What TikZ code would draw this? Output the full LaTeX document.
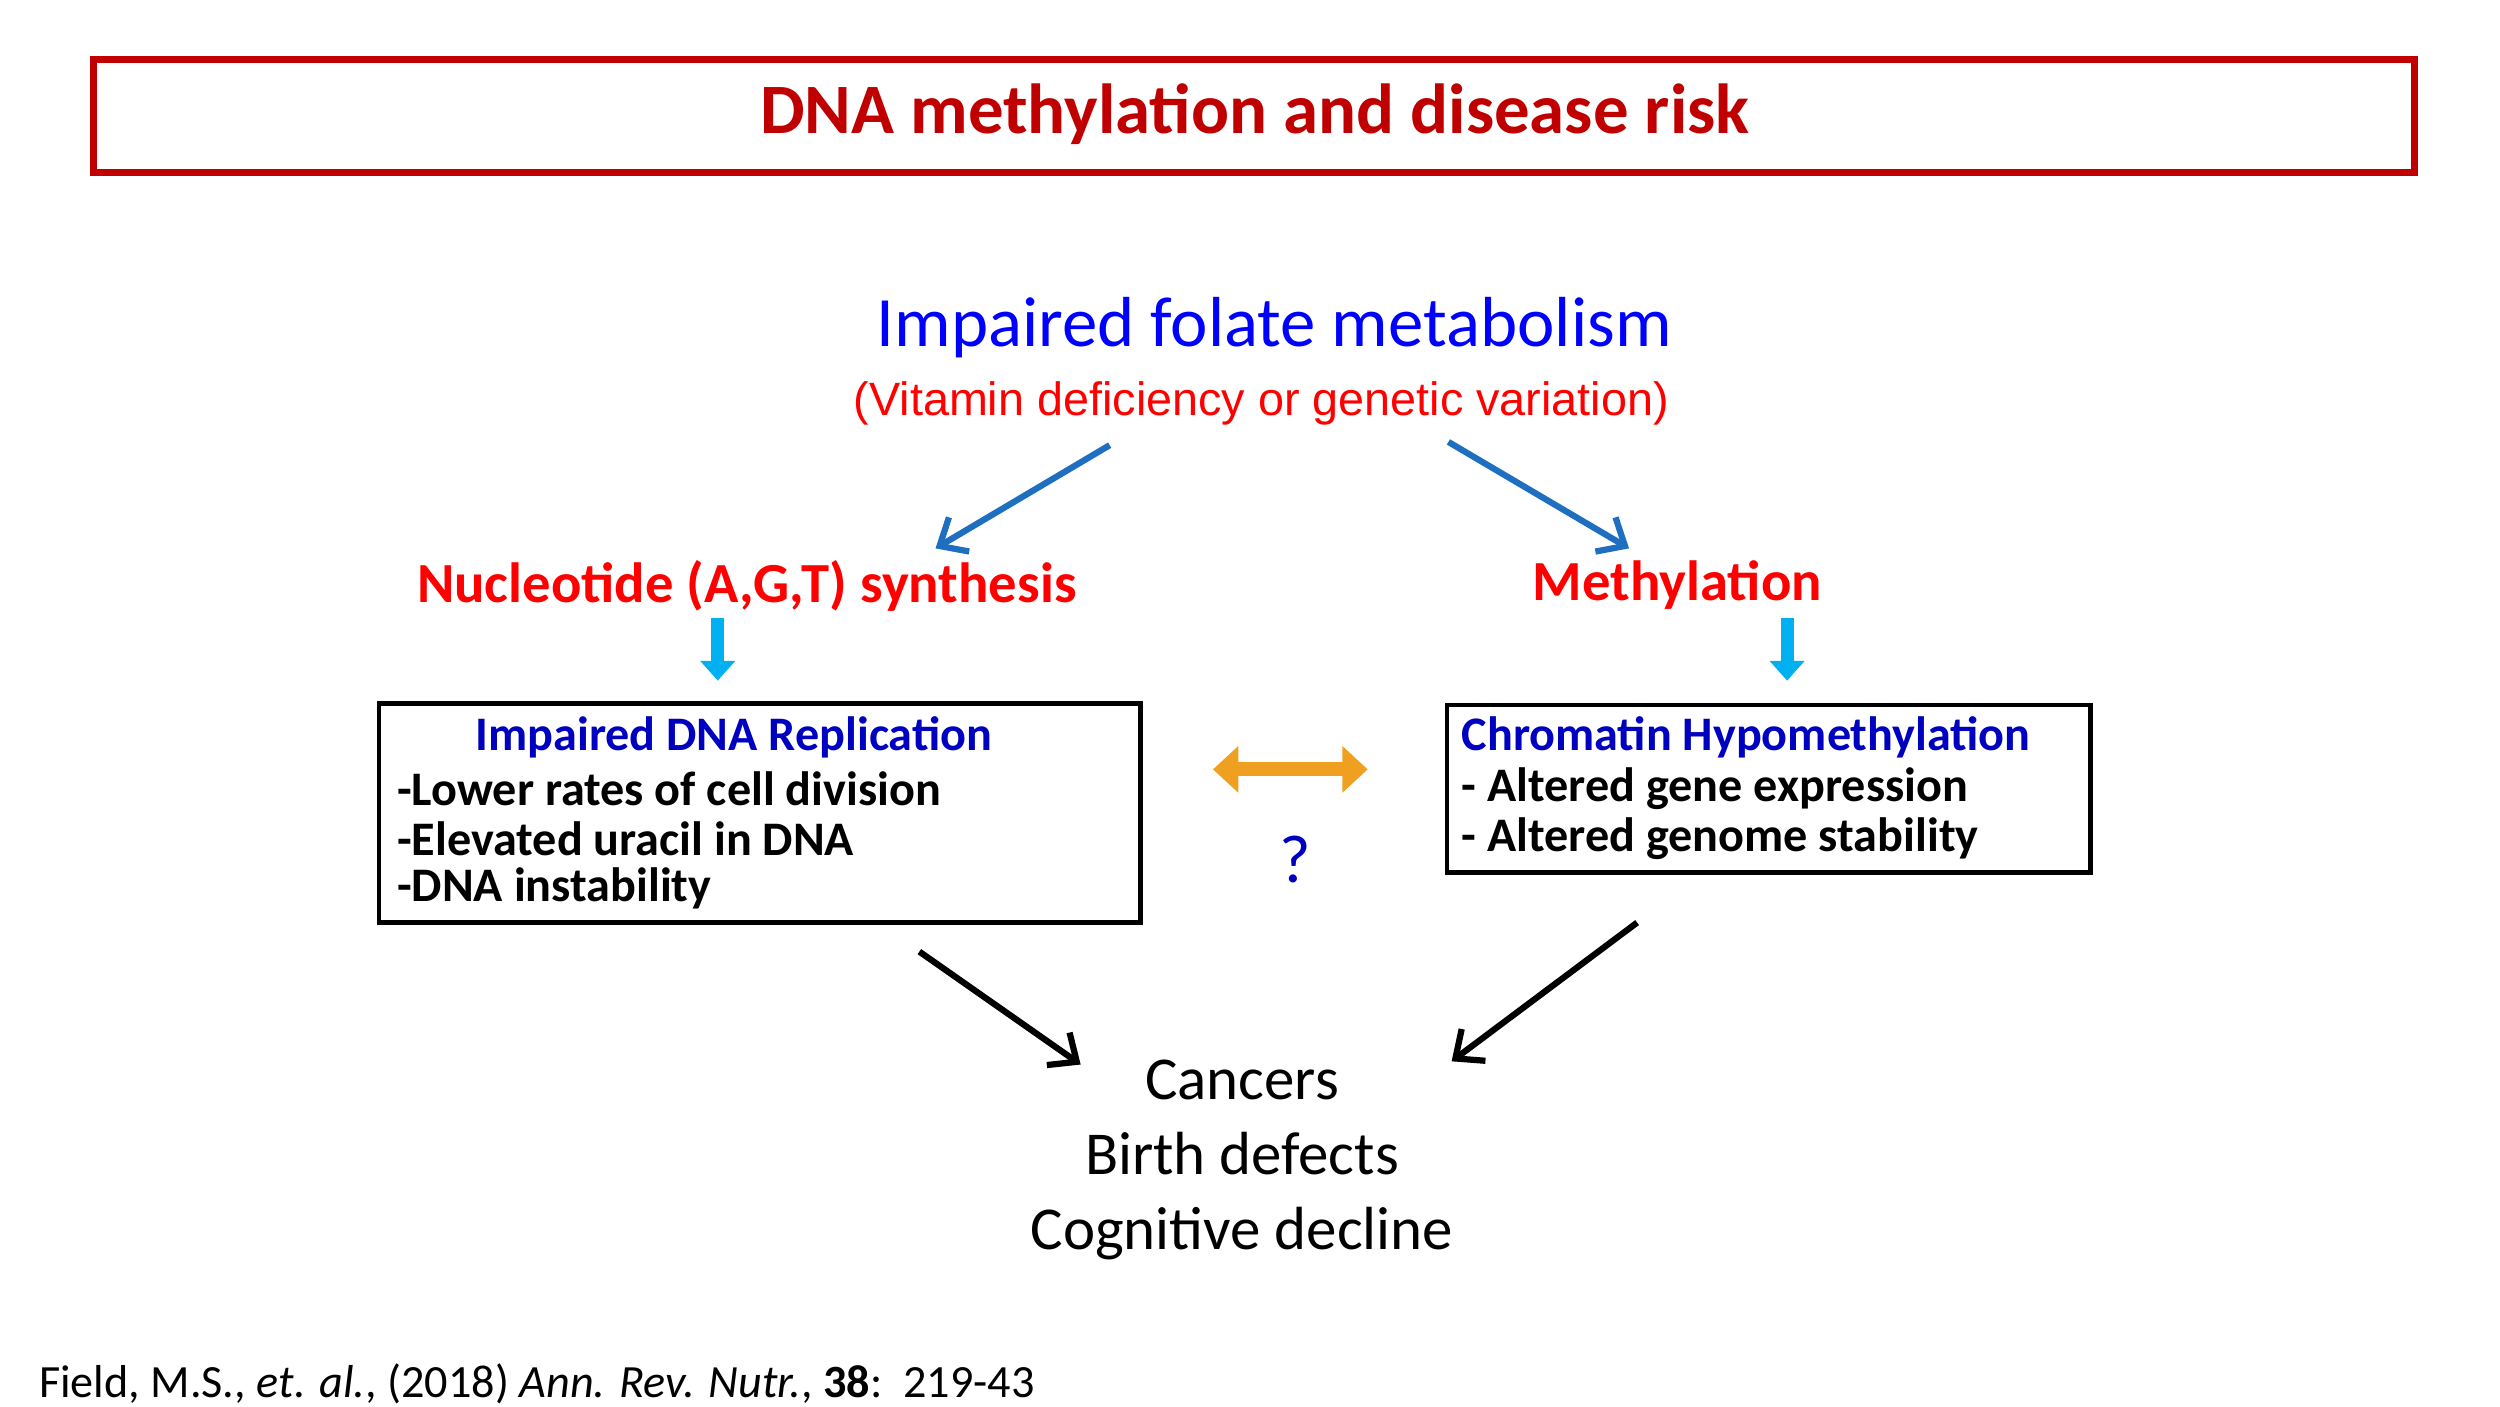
\documentclass[tikz,border=0pt]{standalone}
\usepackage{fontspec}
\setmainfont{Carlito}
\newfontfamily\arialfont{Liberation Sans}
\usepackage{tikz}
\usetikzlibrary{arrows.meta}
\definecolor{darkred}{HTML}{C00000}
\definecolor{arrowblue}{HTML}{1F6FC0}
\definecolor{lightblue}{HTML}{00B0F0}
\definecolor{boxblue}{HTML}{0000C0}
\definecolor{orangearrow}{HTML}{F0A020}
\tikzset{
  bluearrow/.style={arrowblue,line width=2.2pt,-{Straight Barb[length=8pt,width=14pt]}},
  downarrow/.style={lightblue,line width=4.5pt,-{Triangle[length=7pt,width=12pt]}},
  blackarrow/.style={black,line width=2.2pt,-{Straight Barb[length=8pt,width=14pt]}},
  stepbox/.style={draw,line width=1.6pt,inner sep=0pt},
  pathlabel/.style={text=red,font=\fontsize{20}{24}\selectfont\bfseries},
  boxline/.style={anchor=west,font=\fontsize{17}{20}\selectfont\bfseries},
}
\begin{document}
\begin{tikzpicture}[x=0.02cm,y=-0.02cm]
\useasboundingbox (0,0) rectangle (1550,872);
% title
\draw[darkred,line width=2.5pt] (58,37) rectangle (1497,107);
\node[text=darkred,font=\fontsize{25}{30}\selectfont\bfseries] (title) at (778,71) {DNA methylation and disease risk};
% cause
\node[text=blue,font=\fontsize{25}{30}\selectfont] (folate) at (790,203) {Impaired folate metabolism};
\node[text=red,font=\arialfont\fontsize{16.5}{20}\selectfont] (cause) at (782,250) {(Vitamin deficiency or genetic variation)};
\coordinate (c1) at (688,276);
\coordinate (c2) at (898,274);
% two paths
\node[pathlabel] (nuc) at (463,363) {Nucleotide (A,G,T) synthesis};
\node[pathlabel] (meth) at (1040,363) {Methylation};
\draw[bluearrow] (c1) -- (580,340);
\draw[bluearrow] (c2) -- (1010,340);
\draw[downarrow] (445,383) -- (445,422);
\draw[downarrow] (1108,383) -- (1108,422);
% boxes
\node[stepbox,minimum width=472*0.02cm,minimum height=136*0.02cm] (repl) at (471,504) {};
\node[text=boxblue,font=\fontsize{17}{20}\selectfont\bfseries] (repltitle) at (455,457) {Impaired DNA Replication};
\node[boxline] (r1) at (240,489) {-Lower rates of cell division};
\node[boxline] (r2) at (240,520) {-Elevated uracil in DNA};
\node[boxline] (r3) at (240,551) {-DNA instability};
\node[stepbox,minimum width=399*0.02cm,minimum height=104*0.02cm] (chrom) at (1096.5,489) {};
\node[boxline,text=boxblue] (chromtitle) at (900,457) {Chromatin Hypomethylation};
\node[boxline] (h1) at (900,489) {- Altered gene expression};
\node[boxline] (h2) at (900,520) {- Altered genome stability};
% link
\draw[orangearrow,line width=5pt,{Triangle[length=9pt,width=16pt]}-{Triangle[length=9pt,width=16pt]}] (752,477) -- (848,477);
\node[text=boxblue,font=\fontsize{24}{28}\selectfont] (q) at (803,533) {?};
% outcomes
\node[align=center,font=\fontsize{21.5}{26.5}\selectfont] (out) at (770,719) {Cancers\\Birth defects\\Cognitive decline};
\draw[blackarrow] (570,590) -- (670,660);
\draw[blackarrow] (1015,572) -- (900,658);
% reference
\node[anchor=west,font=\fontsize{16.3}{19}\selectfont] (ref) at (18,858) {Field, M.S., \textit{et. al.}, (2018) \textit{Ann. Rev. Nutr.}, \textbf{38}:\ \ 219-43};
\end{tikzpicture}
\end{document}
